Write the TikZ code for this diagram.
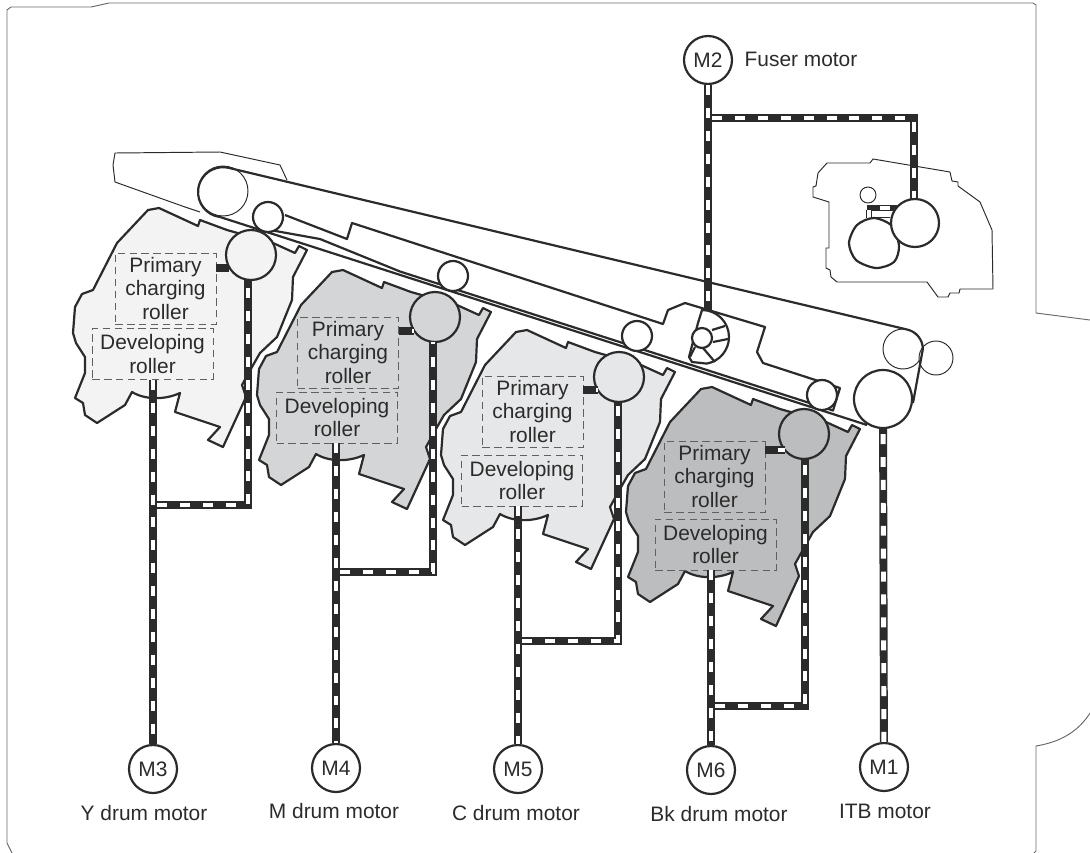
\documentclass[tikz,border=0pt]{standalone}
\usepackage{fontspec}
\setmainfont{Liberation Sans}
\usepackage{xcolor}
\usetikzlibrary{positioning,calc}
\definecolor{ink}{HTML}{2B2B2B}
\definecolor{yfill}{HTML}{F3F3F3}
\definecolor{mfill}{HTML}{D4D5D6}
\definecolor{cfill}{HTML}{E6E7E8}
\definecolor{kfill}{HTML}{BCBDBF}
\newcommand{\labelfont}{\fontsize{11.9}{13.2}\selectfont}
\newcommand{\cartoutline}{(148,210) -- (159,208) -- (198,226) -- (200,220) -- (227,230) -- (273,243) -- (295,253) -- (299,246) -- (307,250) -- (293,277) -- (292,300) -- (277,337) -- (260,353) -- (252,367) -- (242,385) -- (246,397) -- (223,447) -- (208,440) -- (220,427) -- (175,412) -- (180,393) .. controls (165,400) and (145,400) .. (132,392) -- (125,405) -- (97,423) -- (85,415) -- (83,403) -- (75,398) -- (85,373) -- (85,357) -- (76,343) -- (73,333) -- (75,307) -- (82,294) -- (93,290) -- (117,243) -- cycle}
\tikzset{
  thinline/.style={draw=ink, line width=0.55pt},
  thickline/.style={draw=ink, line width=1.25pt},
  cartridge/.style={thickline, line join=round},
  rollerthin/.style={circle, thinline, fill=white, inner sep=0pt},
  roller/.style={circle, thickline, fill=white, inner sep=0pt},
  motor/.style={circle, thickline, fill=white, inner sep=0pt, minimum size=9.6mm, text=ink, font=\labelfont},
  motorlabel/.style={text=ink, font=\labelfont, inner sep=0pt},
  partbox/.style={draw=ink!75, dash pattern=on 4.3pt off 2.5pt, line width=0.55pt, align=center, text=ink, font=\labelfont, inner sep=0pt, execute at begin node={\rule{0pt}{10.3pt}}},
  primbox/.style={partbox, minimum width=2.02cm, minimum height=1.42cm},
  devbox/.style={partbox, minimum width=2.42cm, minimum height=1.02cm},
  drivetrain/.style={preaction={draw=ink, solid, line width=4.5pt}, draw=white, line width=2.8pt, dash pattern=on 5.67pt off 7.37pt},
  geartrain/.style={preaction={draw=ink, solid, line width=3.4pt}, draw=white, line width=2pt, dash pattern=on 5.67pt off 7.37pt}
}
\begin{document}
\begin{tikzpicture}[x=0.02cm, y=-0.02cm]
  \useasboundingbox (0,0) rectangle (1090,853);
  \draw[thinline, draw=ink!70] (12,853) -- (7,843) -- (7,10) -- (11,7) -- (91,7) -- (109,3) -- (1033,3) -- (1036,5) -- (1036,313) -- (1090,320);
  \draw[thinline, draw=ink!70] (1090,713) .. controls (1078,732) and (1060,742) .. (1036,746) -- (1036,851) -- (1034,853);

  \draw[thinline] (287,180) -- (280,165) -- (220,152) -- (115,153) -- (113,165) -- (115,182) -- (185,207) -- (200,212);

  \draw[thinline] (818,173) -- (827,163) -- (870,163) -- (873,159) -- (950,172) -- (952,181) -- (958,182) -- (958,186) -- (980,202) -- (992,230) -- (993,289) -- (960,289) -- (959,293) -- (950,293) -- (948,297) -- (938,297) -- (927,282) -- (837,282) -- (831,277) -- (830,270) -- (826,268) -- (826,248) -- (829,248) -- (829,202) -- (813,197) -- (813,187) -- (816,186) -- cycle;

  \draw[thickline, line join=round] (270,230) -- (320,239) -- (400,271.5) -- (833,410.5) -- (840,388) -- (763,363) -- (757,352) -- (765,327) -- (685,303) -- (668,310) -- (663,324) -- (352,223) -- (347,239) -- (285,215);

  \node[rollerthin, minimum size=1cm] (bigroller) at (223,191) {};
  \node[rollerthin, minimum size=8mm] (tensionroller) at (903,349) {};
  \node[rollerthin, minimum size=6.8mm] (sideroller) at (936,358) {};
  \draw[thickline, line join=round] (867,425) -- (220,217) arc[start angle=-263, end angle=-78, radius=25] -- (907,329.5) arc[start angle=-78, end angle=0, radius=20] -- (913,403);

  \node[roller, minimum size=6mm] (idlera) at (268,217) {};
  \node[roller, minimum size=6mm] (idlerb) at (453,276) {};
  \node[roller, minimum size=6mm] (idlerc) at (637,336) {};
  \node[roller, minimum size=6mm] (idlerd) at (822,395) {};
  \node[roller, minimum size=11.6mm] (itbroller) at (883,399) {};

  \draw[thickline, fill=white] (702,310) arc[start angle=-90, end angle=80, radius=27] -- (692,362) -- (689,357) -- (698,323) -- cycle;
  \draw[thickline] (712,330) -- (725,326);
  \draw[thickline] (713,342) -- (728,339);
  \draw[thickline] (703,348) -- (715,362);
  \draw[thickline] (695,347) -- (690,357);
  \node[roller, minimum size=4mm] (fanhub) at (702,338) {};

  \draw[cartridge, fill=yfill] \cartoutline;
  \draw[cartridge, fill=mfill, shift={(184,62)}] \cartoutline;
  \draw[cartridge, fill=cfill, shift={(368,122)}] \cartoutline;
  \draw[cartridge, fill=kfill, shift={(553,179)}] \cartoutline;

  \node[roller, fill=yfill, minimum size=1cm] (ydrum) at (251,255) {};
  \node[roller, fill=mfill, minimum size=1cm] (mdrum) at (435,317) {};
  \node[roller, fill=cfill, minimum size=1cm] (cdrum) at (619,377) {};
  \node[roller, fill=kfill, minimum size=1cm] (kdrum) at (804,434) {};

  \node[primbox] (yprim) at (165.5,288.5) {Primary\\charging\\roller};
  \node[devbox] (ydev) at (152.5,354) {Developing\\roller};
  \node[primbox] (mprim) at (348,352.5) {Primary\\charging\\roller};
  \node[devbox] (mdev) at (337,417.5) {Developing\\roller};
  \node[primbox] (cprim) at (532.5,411.5) {Primary\\charging\\roller};
  \node[devbox] (cdev) at (522,480.5) {Developing\\roller};
  \node[primbox] (kprim) at (714.5,476.5) {Primary\\charging\\roller};
  \node[devbox] (kdev) at (715.5,544.5) {Developing\\roller};

  \node[motor] (m1) at (884,767) {M1};
  \node[motor] (m2) at (708,60) {M2};
  \node[motor] (m3) at (153,769) {M3};
  \node[motor] (m4) at (336,768) {M4};
  \node[motor] (m5) at (518,769) {M5};
  \node[motor] (m6) at (711,770) {M6};

  \node[motorlabel] (fuserlabel) at (801,59) {Fuser motor};
  \node[motorlabel] (ylabel) at (144,813) {Y drum motor};
  \node[motorlabel] (mlabel) at (334,811) {M drum motor};
  \node[motorlabel] (clabel) at (516,813) {C drum motor};
  \node[motorlabel] (klabel) at (719,814) {Bk drum motor};
  \node[motorlabel] (itblabel) at (885,811) {ITB motor};

  \coordinate (yjoin) at (157,505);
  \coordinate (mjoin) at (340,572);
  \coordinate (cjoin) at (522,641);
  \coordinate (kjoin) at (715,706);
  \coordinate (ytop) at (248,280);
  \coordinate (mtop) at (433,342);
  \coordinate (ctop) at (618,402);
  \coordinate (ktop) at (805,459);
  \coordinate (ygear) at (229,268);
  \coordinate (mgear) at (414,331);
  \coordinate (cgear) at (598,390);
  \coordinate (kgear) at (785,450);

  \draw[drivetrain] (yjoin) -| (ytop);
  \draw[drivetrain] (mjoin) -| (mtop);
  \draw[drivetrain] (cjoin) -| (ctop);
  \draw[drivetrain] (kjoin) -| (ktop);
  \draw[drivetrain] (ydev.south -| m3) -- (m3);
  \draw[drivetrain] (mdev.south -| m4) -- (m4);
  \draw[drivetrain] (cdev.south -| m5) -- (m5);
  \draw[drivetrain] (kdev.south -| m6) -- (m6);
  \draw[drivetrain, dash phase=5.67pt] (yprim.east |- ygear) -- (ygear);
  \draw[drivetrain, dash phase=5.67pt] (mprim.east |- mgear) -- (mgear);
  \draw[drivetrain, dash phase=5.67pt] (cprim.east |- cgear) -- (cgear);
  \draw[drivetrain, dash phase=5.67pt] (kprim.east |- kgear) -- (kgear);
  \draw[drivetrain] (m1) -- (itbroller);

  \coordinate (fanin) at (708,311);
  \coordinate (fuserjoin) at (712,118);
  \coordinate (fusertop) at (914,199);
  \coordinate (gearleft) at (867,208);
  \coordinate (gearright) at (897,208);
  \coordinate (gearfoot) at (869,218);
  \draw[drivetrain] (fuserjoin) -| (fusertop);
  \draw[drivetrain] (m2) -- (fanin);

  \node[rollerthin, minimum size=3.2mm] (fusersmall) at (868,195) {};
  \draw[geartrain, dash phase=5.67pt] (gearleft) -- (gearright);
  \draw[geartrain] (gearleft -| gearfoot) ++(0,2) -- (gearfoot);
  \draw[thinline] (873,217) -- (890,217);
  \draw[thickline, fill=white] plot[smooth cycle] coordinates {(874,218) (857,225) (849,243) (856,260) (876,268) (894,262) (899,246) (892,226)};
  \node[roller, minimum size=9.6mm] (fuserroller) at (915,223) {};
\end{tikzpicture}
\end{document}
